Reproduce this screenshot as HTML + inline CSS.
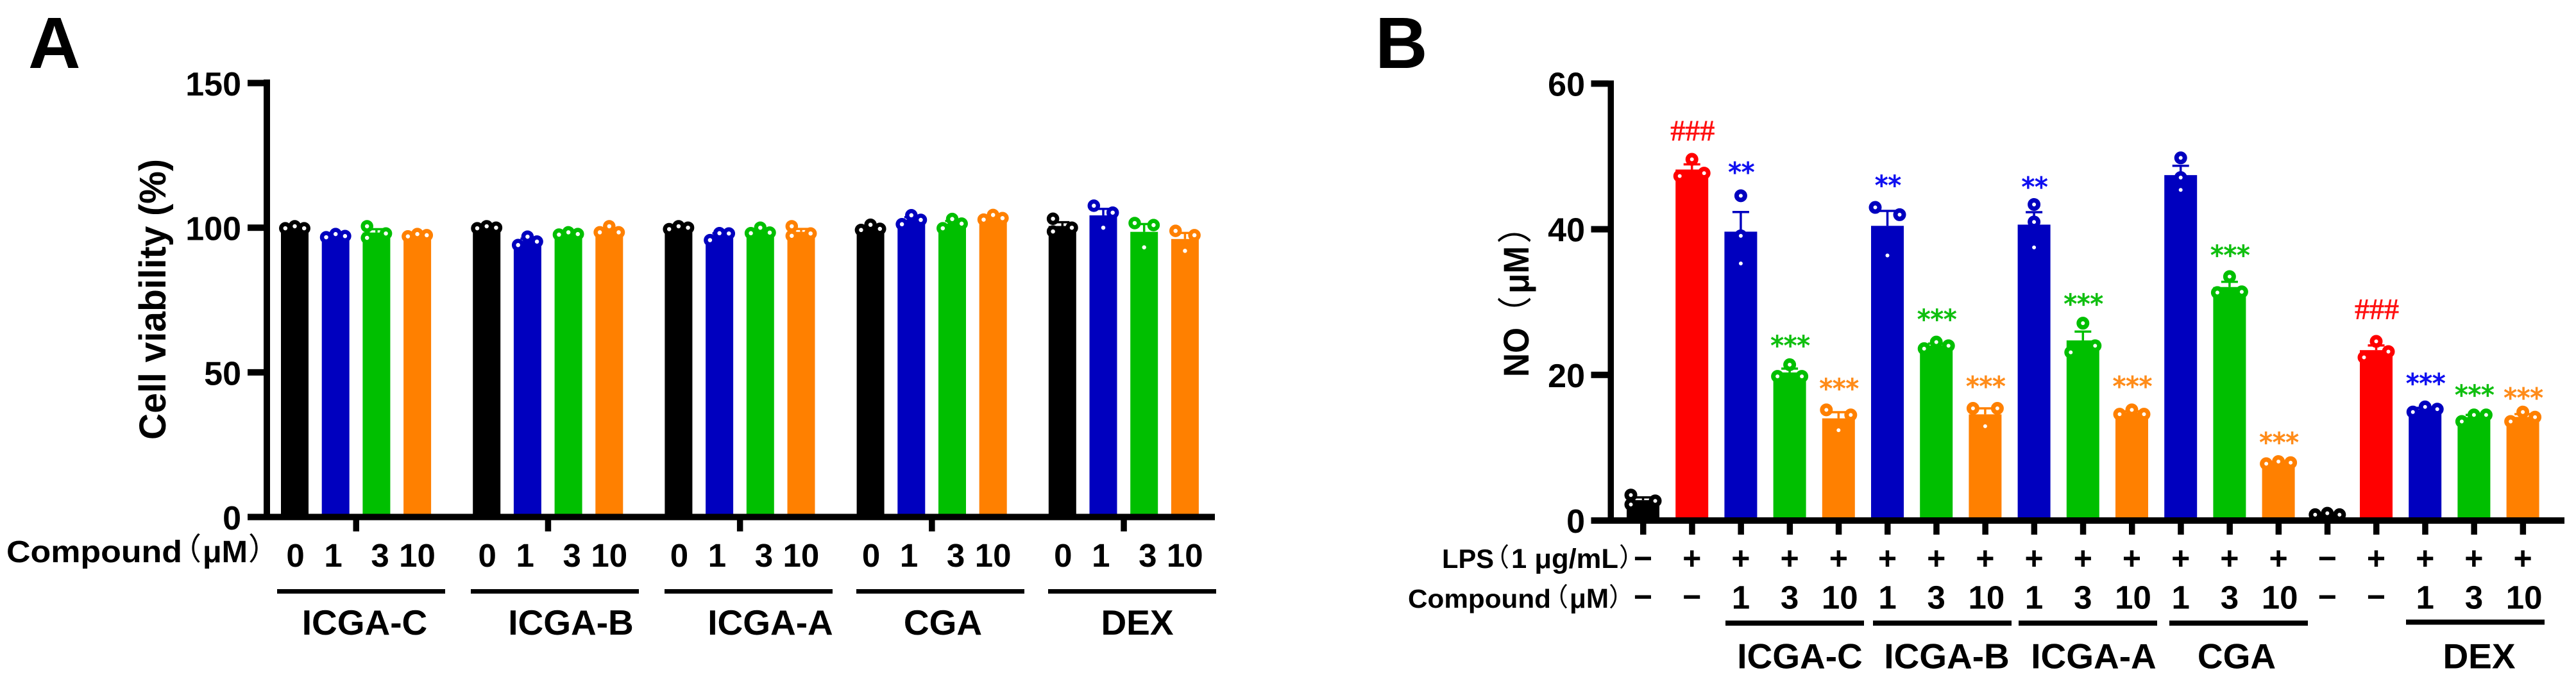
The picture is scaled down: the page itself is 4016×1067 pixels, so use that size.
<!DOCTYPE html>
<html lang="en">
<head>
<meta charset="utf-8">
<title>Cell viability and NO production</title>
<style>
html,body{margin:0;padding:0;background:#fff;}
svg{display:block;}
text{font-family:"Liberation Sans","Noto Sans CJK SC",sans-serif;font-weight:700;fill:#000;}
.cjk{font-family:"Noto Sans CJK SC","Liberation Sans",sans-serif;font-weight:400;}
.sig{font-family:"DejaVu Sans",sans-serif;font-weight:400;stroke-width:1.2;}
.hash{font-family:"Liberation Serif",serif;font-weight:400;stroke-width:0.8;}
</style>
</head>
<body>
<svg id="figure" xmlns="http://www.w3.org/2000/svg" width="4016" height="1067" viewBox="0 0 4016 1067">
  <rect width="4016" height="1067" fill="#fff"/>
  <text x="44" y="106" font-size="113">A</text>
  <text x="2144" y="106" font-size="113">B</text>

  <text transform="translate(258 467) rotate(-90)" text-anchor="middle" font-size="58" textLength="438" lengthAdjust="spacingAndGlyphs">Cell viability (%)</text>

  <text x="10" y="877" font-size="48" textLength="274" lengthAdjust="spacingAndGlyphs">Compound</text>
  <text class="cjk" x="266" y="873" font-size="48">（</text>
  <text x="316" y="877" font-size="48" textLength="70" lengthAdjust="spacingAndGlyphs">μM</text>
  <text class="cjk" x="387" y="873" font-size="48">）</text>

  <text transform="translate(2383 588) rotate(-90)" font-size="56" textLength="77" lengthAdjust="spacingAndGlyphs">NO</text>
  <text class="cjk" transform="translate(2381 516) rotate(-90)" font-size="54">（</text>
  <text transform="translate(2383 458) rotate(-90)" font-size="56" textLength="74" lengthAdjust="spacingAndGlyphs">μM</text>
  <text class="cjk" transform="translate(2381 380) rotate(-90)" font-size="54">）</text>

  <text x="2248" y="886" font-size="42" textLength="81" lengthAdjust="spacingAndGlyphs">LPS</text>
  <text class="cjk" x="2313" y="883" font-size="40">（</text>
  <text x="2356" y="886" font-size="43" textLength="167" lengthAdjust="spacingAndGlyphs">1 μg/mL</text>
  <text class="cjk" x="2524" y="883" font-size="40">）</text>

  <text x="2195" y="948" font-size="41" textLength="223" lengthAdjust="spacingAndGlyphs">Compound</text>
  <text class="cjk" x="2405" y="945" font-size="40">（</text>
  <text x="2447" y="948" font-size="43" textLength="61" lengthAdjust="spacingAndGlyphs">μM</text>
  <text class="cjk" x="2508" y="945" font-size="40">）</text>

  <g id="panel-a"></g>
  <g id="panel-b"></g>
</svg>
<script>
// ---------- Panel A data ----------
const viabilityTicks = [0, 50, 100, 150];
const viabilityGroups = ['ICGA-C', 'ICGA-B', 'ICGA-A', 'CGA', 'DEX'];
const viabilityDoses = ['0', '1', '3', '10'];
// replicate readings per bar, listed left, middle, right
const viabilityIcgaC = [[99.8,100.5,99.8],[96.7,97.8,97.1],[100.5,96.5,98],[97,97.8,97.4]];
const viabilityIcgaB = [[99.8,100.5,100],[94,96.9,95.2],[97.6,98.4,97.8],[98.4,100.5,98.4]];
const viabilityIcgaA = [[99.5,100.5,100],[95.7,98.1,98],[98.1,100,98.3],[100.5,97.2,98]];
const viabilityCga = [[99.2,101,99.6],[101.2,104.3,102.7],[99.8,103,101.4],[102.8,104.4,103.3]];
const viabilityDex = [[103.1,98.7,100],[107.6,100,105.2],[101.6,93.2,100.9],[98.9,92,97.4]];
const viabilitySeries = [viabilityIcgaC, viabilityIcgaB, viabilityIcgaA, viabilityCga, viabilityDex];
// bars (group-dose) whose middle replicate sits in the left column
const viabilityLeftStacked = ['0-2', '2-3', '4-0'];

// ---------- Panel B data ----------
const noTicks = [0, 20, 40, 60];
const noLpsRow = ['−','+','+','+','+','+','+','+','+','+','+','+','+','+','−','+','+','+','+'];
const noCompoundRow = ['−','−','1','3','10','1','3','10','1','3','10','1','3','10','−','−','1','3','10'];
const noBarColors = ['black','red','blue','green','orange','blue','green','orange','blue','green','orange','blue','green','orange','black','red','blue','green','orange'];
const noReadings = [[3.5,2.2,2.7],[47.3,49.6,47.7],[44.6,39.1,35.3],[19.8,21.4,19.8],[15.2,12.4,14.5],[43,36.4,42],[23.6,24.5,24],[15.4,12.95,15.4],[43.4,41,37.5],[23.1,27.1,24],[14.6,15.2,14.6],[49.8,47.1,45.4],[31.3,33.5,31.4],[7.8,8.1,7.95],[0.8,1,0.8],[22.4,24.6,23.2],[14.9,15.6,15.3],[13.6,14.5,14.5],[13.6,14.9,14.2]];
const noCenteredBars = [2, 8, 11];
const noLeftStackedBars = [0];
const noSignificanceMarks = ['','###','**','***','***','**','***','***','**','***','***','','***','***','','###','***','***','***'];
const noSignificanceLevels = [0,53.6,48.5,24.7,18.8,46.7,28.3,19.1,46.5,30.4,19.1,0,37.1,11.4,0,29.1,19.5,17.9,17.5];
const noGroupLabels = ['ICGA-C','ICGA-B','ICGA-A','CGA','DEX'];
const noGroupFirstBar = [2, 5, 8, 11, 16];

// ---------- shared ----------
const NS = 'http://www.w3.org/2000/svg';
const palette = {black:'#000000', blue:'#0000BF', green:'#00BF00', orange:'#FF8000', red:'#FF0000'};
const markColors = {red:'#FF1010', blue:'#1010F0', green:'#10BF10', orange:'#FF8C1A'};
const doseColors = ['black','blue','green','orange'];

function make(tag, parent, attrs, text) {
  const node = document.createElementNS(NS, tag);
  for (const k in attrs) node.setAttribute(k, attrs[k]);
  if (text !== undefined) node.textContent = text;
  parent.appendChild(node);
  return node;
}
function mean(a) { return a.reduce((s, v) => s + v, 0) / a.length; }
function sem(a) {
  const m = mean(a);
  return Math.sqrt(a.reduce((s, v) => s + (v - m) * (v - m), 0) / (a.length - 1)) / Math.sqrt(a.length);
}
function drawBar(parent, cx, width, top, base, color) {
  const r = make('rect', parent, {x: cx - width / 2, y: top, width: width, height: base - top, fill: color});
  
  
}
function drawError(parent, cx, yMean, yUpper, capHalf, color) {
  const v = make('line', parent, {x1: cx, x2: cx, y1: yMean, y2: yUpper, stroke: color, 'stroke-width': 3.5});
  
  
  const c = make('line', parent, {x1: cx - capHalf, x2: cx + capHalf, y1: yUpper, y2: yUpper, stroke: color, 'stroke-width': 3.5});
  
  
}
function drawPoint(parent, cx, cy, r, sw, color) {
  const p = make('circle', parent, {cx: cx, cy: cy, r: r, fill: '#fff', stroke: color, 'stroke-width': sw});
  
  
}
function drawRule(parent, x, y, w, h, name) {
  const r = make('rect', parent, {x: x, y: y, width: w, height: h, fill: '#000'});
  
  
}

// ---------- Panel A ----------
(function () {
  const g = document.getElementById('panel-a');
  const yA = v => 806.5 - v * 4.513;
  const xA = (grp, i) => 459.5 + grp * 299.2 + i * 63.7;
  const doseShift = [1, 60, 133, 191];
  const labelCenters = [568.5, 890, 1201, 1470, 1773];
  const lineStarts = [432, 734, 1036, 1335, 1634];

  viabilitySeries.forEach((bars, grp) => {
    bars.forEach((vals, i) => {
      const cx = xA(grp, i), color = palette[doseColors[i]], m = mean(vals);
      drawBar(g, cx, 43, yA(m), 806.5, color);
      drawError(g, cx, yA(m), yA(m + sem(vals)), 11, color);
      const leftStack = viabilityLeftStacked.indexOf(grp + '-' + i) >= 0;
      const offsets = leftStack ? [-14.7, -14.7, 14.7] : [-14.7, 0, 14.7];
      vals.forEach((v, k) => drawPoint(g, cx + offsets[k], yA(v), 6.5, 6.5, color));
    });
    const t = make('rect', g, {x: xA(grp, 0) + 95.5 - 4.5, y: 811, width: 9.5, height: 18, fill: '#000'});
    
    
    viabilityDoses.forEach((d, i) => {
      const dl = make('text', g, {x: xA(grp, 0) + doseShift[i], y: 884, 'text-anchor': 'middle', 'font-size': 51}, d);
      
      
    });
    drawRule(g, lineStarts[grp], 919, 262, 7, 'group-underline');
    const gl = make('text', g, {x: labelCenters[grp], y: 990, 'text-anchor': 'middle', 'font-size': 55}, viabilityGroups[grp]);
    
    
  });

  drawRule(g, 411, 124, 10, 687, 'y-axis-line');
  drawRule(g, 386, 801.5, 1508, 10, 'x-axis-line');
  viabilityTicks.forEach(v => {
    drawRule(g, 386, yA(v) - 5, 26, 10, 'y-axis-tick');
    const tl = make('text', g, {x: 376, y: yA(v) + 19.5, 'text-anchor': 'end', 'font-size': 52}, String(v));
    
    
  });
})();

// ---------- Panel B ----------
(function () {
  const g = document.getElementById('panel-b');
  const yB = v => 812 - v * 11.36;
  const xB = i => 2561.5 + i * 76.2;
  const lineStartsB = [2690, 2920, 3147, 3382, 3751];
  const lineYB = [968, 968, 968, 968, 966.5];
  const labelCentersB = [2806, 3035, 3264, 3487, 3865];

  noReadings.forEach((vals, i) => {
    const cx = xB(i), color = palette[noBarColors[i]], m = mean(vals);
    drawBar(g, cx, 51, yB(m), 812, color);
    drawError(g, cx, yB(m), yB(m + sem(vals)), 13, color);
    let offsets = [-19, 0, 19];
    if (noCenteredBars.indexOf(i) >= 0) offsets = [0, 0, 0];
    if (noLeftStackedBars.indexOf(i) >= 0) offsets = [-19, -19, 19];
    vals.forEach((v, k) => drawPoint(g, cx + offsets[k], yB(v), 6.5, 7, color));

    const t = make('rect', g, {x: cx - 4.5, y: 817, width: 9.5, height: 17, fill: '#000'});
    
    

    const lp = make('text', g, {x: cx, y: 888, 'text-anchor': 'middle', 'font-size': 50}, noLpsRow[i]);
    
    

    const isDash = noCompoundRow[i] === '−';
    const cp = make('text', g, {x: cx + (noCompoundRow[i] === '10' ? 2 : 0), y: isDash ? 948 : 949.5, 'text-anchor': 'middle', 'font-size': isDash ? 50 : 51}, noCompoundRow[i]);
    
    

    const mark = noSignificanceMarks[i];
    if (mark) {
      const isHash = mark.charAt(0) === '#';
      const sy = yB(noSignificanceLevels[i]);
      const tint = markColors[noBarColors[i]];
      const sg = make('text', g, {x: cx + 1, y: isHash ? sy + 16 : sy + 22, 'text-anchor': 'middle', 'font-size': isHash ? 46 : 41, class: isHash ? 'hash' : 'sig', style: 'fill:' + tint + ';stroke:' + tint}, mark);
      
      
    }
  });

  noGroupLabels.forEach((name, k) => {
    drawRule(g, lineStartsB[k], lineYB[k], 216, 8, 'group-underline');
    const gl = make('text', g, {x: labelCentersB[k], y: 1042.5, 'text-anchor': 'middle', 'font-size': 55}, name);
    
    
  });

  drawRule(g, 2506.5, 125.5, 9.5, 691, 'y-axis-line');
  drawRule(g, 2480.5, 807, 1517.5, 10, 'x-axis-line');
  noTicks.forEach(v => {
    drawRule(g, 2480.5, yB(v) - 5, 27, 10, 'y-axis-tick');
    const tl = make('text', g, {x: 2471, y: yB(v) + 19, 'text-anchor': 'end', 'font-size': 52}, String(v));
    
    
  });
})();
</script>
</body>
</html>
